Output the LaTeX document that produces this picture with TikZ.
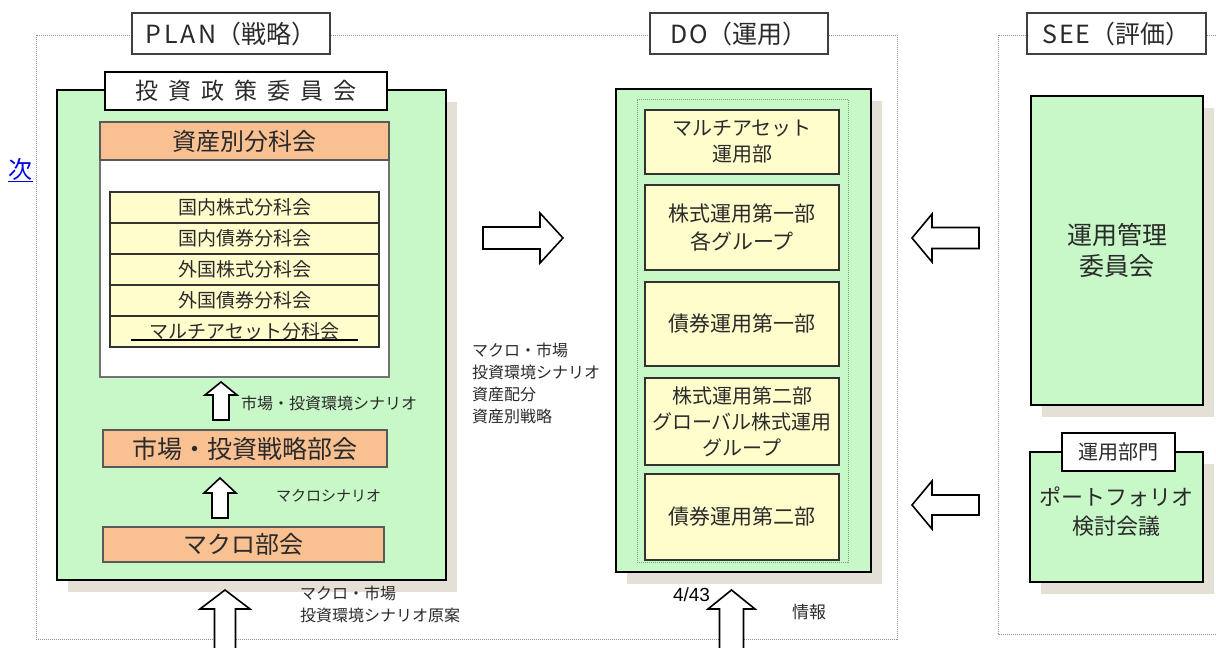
\documentclass[tikz,border=0pt]{standalone}
\usepackage{fontspec}
\setmainfont{Noto Sans CJK JP}
\newfontfamily\latinfont{Liberation Sans}
\usetikzlibrary{shadows}
\definecolor{gfill}{HTML}{C8F7C8}
\definecolor{ofill}{HTML}{F9C092}
\definecolor{yfill}{HTML}{FFFDCC}
\definecolor{shad}{HTML}{E4E0D6}
\definecolor{framec}{HTML}{909090}
\definecolor{txt}{HTML}{2A2A2A}
\definecolor{dotg}{HTML}{6FA86F}
\definecolor{linkblue}{HTML}{0000EE}
\newcommand\fsz[2]{\fontsize{#1}{#2}\selectfont}
\newcommand\blkup[6]{%
  \draw[blk] (#1,#2) -- ({#1+#4},#3) -- ({#1+#5},#3) -- ({#1+#5},#6) -- ({#1-#5},#6) -- ({#1-#5},#3) -- ({#1-#4},#3) -- cycle;}
\newcommand\blkh[6]{%
  \draw[blk] (#2,#1) -- (#3,{#1-#4}) -- (#3,{#1-#5}) -- (#6,{#1-#5}) -- (#6,{#1+#5}) -- (#3,{#1+#5}) -- (#3,{#1+#4}) -- cycle;}
\tikzset{
  frm/.style={draw=framec, line width=0.9pt, dash pattern=on 1pt off 1pt},
  ttl/.style={draw=black!75, fill=white, line width=1.2pt, text=txt, inner sep=0pt},
  bigbox/.style={draw=black, line width=2.8pt, fill=gfill, inner sep=0pt, text=txt, align=center},
  shd/.style={drop shadow={shadow xshift=11pt, shadow yshift=-12pt, fill=shad, opacity=1}},
  obox/.style={draw=black!65, line width=1.2pt, fill=ofill, inner sep=0pt, text=txt},
  ybox/.style={draw=black!80, line width=1.4pt, fill=yfill, inner sep=0pt, text=txt, align=center},
  blk/.style={draw=black, line width=1.6pt, fill=white, line join=miter},
  lab/.style={text=txt, inner sep=0pt, align=left},
}
\begin{document}
\begin{tikzpicture}[x=1pt,y=-1pt]
\useasboundingbox (0,0) rectangle (1216,648);
% frames
\draw[frm] (36,35) rectangle (897,639);
\draw[frm] (1216,35) -- (998,35) -- (998,634) -- (1216,634);
\node[ttl, minimum width=198, minimum height=41, font=\fsz{25}{30}] (plan) at (231,33.5) {P\hspace{2.5pt}L\hspace{2.5pt}A\hspace{2.5pt}N（戦略）};
\node[ttl, minimum width=178, minimum height=41, font=\fsz{25}{30}] (do) at (739,33.5) {D\hspace{1.5pt}O（運用）};
\node[ttl, minimum width=179, minimum height=41, font=\fsz{25}{30}] (see) at (1116.5,33.5) {S\hspace{1.5pt}E\hspace{1.5pt}E（評価）};
% link
\node[text=linkblue, inner sep=0pt, font=\fsz{24}{28}] (next) at (20.5,169) {次};
\draw[linkblue, line width=1pt] (next.south west) ++(0,1) coordinate (ulA) -- (ulA -| next.south east);
% PLAN
\node[bigbox, shd, minimum width=389, minimum height=490] (pbox) at (251.5,335) {};
\node[ttl, draw=black, line width=2.8pt, minimum width=282, minimum height=38, font=\fsz{23}{28}] (ipc) at (246,91)
  {投\hspace{10pt}資\hspace{10pt}政\hspace{10pt}策\hspace{10pt}委\hspace{10pt}員\hspace{10pt}会};
\node[draw=black!55, line width=1.2pt, fill=white, minimum width=289, minimum height=255, inner sep=0pt] (panel) at (244.5,249.5) {};
\node[obox, minimum width=289, minimum height=38, font=\fsz{24}{28}] (bunka) at (244.5,141) {資産別分科会};
\foreach \t [count=\i] in {国内株式分科会,国内債券分科会,外国株式分科会,外国債券分科会,マルチアセット分科会}{
  \node[ybox, minimum width=269, minimum height=31, font=\fsz{19}{22}] (row\i) at (244.5,{176.5+31*\i}) {\t};
}
\draw[black, line width=1.6pt] (131,340) -- (358,340);
\node[obox, minimum width=284, minimum height=37, font=\fsz{25}{30}] (senryaku) at (245,448.5) {市場・投資戦略部会};
\node[obox, minimum width=281, minimum height=35, font=\fsz{24}{28}] (macro) at (243.5,544.5) {マクロ部会};
\blkup{221}{382}{395}{16}{8}{420}
\node[lab, anchor=west, font=\fsz{16}{20}] (l1) at (241,403) {市場・投資環境シナリオ};
\blkup{220}{478}{493}{16}{8}{518}
\node[lab, anchor=west, font=\fsz{15}{18}] (l2) at (276,496) {マクロシナリオ};
\blkup{225}{590}{609}{25}{10.5}{652}
\node[lab, anchor=north west, font=\fsz{16}{22}] (l3) at (300,586) {マクロ・市場\\投資環境シナリオ原案};
% middle
\blkh{238}{563}{540}{25}{11}{483}
\node[lab, anchor=north west, font=\fsz{16}{22}] (l4) at (472,343) {マクロ・市場\\投資環境シナリオ\\資産配分\\資産別戦略};
% DO
\node[bigbox, shd, minimum width=255, minimum height=483] (dbox) at (743.5,330.5) {};
\node[draw=dotg, line width=1pt, dash pattern=on 1pt off 1pt, minimum width=211, minimum height=463, inner sep=0pt] (dinner) at (742.5,330.5) {};
\node[ybox, minimum width=194, minimum height=64, font=\fsz{20}{26}] (d1) at (742,142) {マルチアセット\\運用部};
\node[ybox, minimum width=194, minimum height=85, font=\fsz{21}{28}] (d2) at (742,227.5) {株式運用第一部\\各グループ};
\node[ybox, minimum width=194, minimum height=84, font=\fsz{21}{26}] (d3) at (742,324) {債券運用第一部};
\node[ybox, minimum width=194, minimum height=87, font=\fsz{20}{26}] (d4) at (742,421.5) {株式運用第二部\\グローバル株式運用\\グループ};
\node[ybox, minimum width=194, minimum height=86, font=\fsz{21}{26}] (d5) at (742,517) {債券運用第二部};
\blkup{731.5}{590}{609}{23.5}{12}{652}
\node[inner sep=0pt, font=\latinfont\fsz{19}{22}] (page) at (691.5,595) {4/43};
\node[lab, font=\fsz{17}{20}] (l5) at (809,612) {情報};
% SEE
\blkh{238}{912}{932}{24}{10.5}{979}
\blkh{505}{912}{932}{24}{10}{979}
\node[bigbox, shd, minimum width=172, minimum height=309, font=\fsz{25}{31}] (kanri) at (1117,250.5) {運用管理\\委員会};
\node[bigbox, shd, minimum width=173, minimum height=130] (pf) at (1116.5,517) {};
\node[lab, align=center, font=\fsz{22}{29}] (pftext) at (1116.5,512) {ポートフォリオ\\検討会議};
\node[ttl, draw=black, line width=2.2pt, minimum width=113, minimum height=38, font=\fsz{20}{24}] (bumon) at (1118.5,452) {運用部門};
\end{tikzpicture}
\end{document}
